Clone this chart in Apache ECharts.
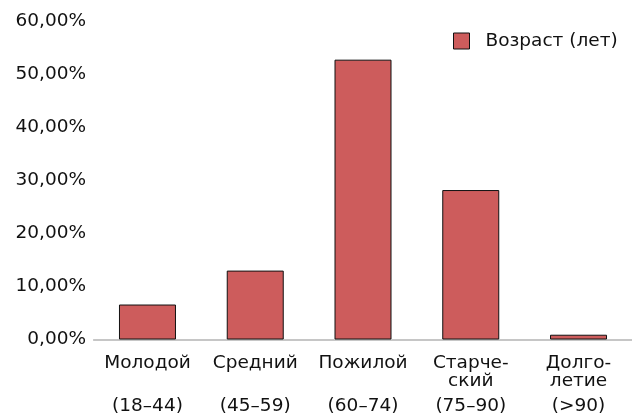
<!DOCTYPE html>
<html>
<head>
<meta charset="utf-8">
<script src="https://cdn.jsdelivr.net/npm/echarts@6/dist/echarts.min.js"></script>
<style>
html,body{margin:0;padding:0;background:#fff;}
#chart{width:632px;height:415px;}
</style>
</head>
<body>
<div id="chart"></div>
<script>
const categories = ['Молодой', 'Средний', 'Пожилой', 'Старческий', 'Долголетие'];
const labelLine1 = ['Молодой', 'Средний', 'Пожилой', 'Старче-', 'Долго-'];
const labelLine2 = ['', '', '', 'ский', 'летие'];
const labelRanges = ['(18–44)', '(45–59)', '(60–74)', '(75–90)', '(>90)'];
const seriesName = 'Возраст (лет)';
const values = [6.6, 13.0, 52.8, 28.2, 0.9];
const yTicks = [0, 10, 20, 30, 40, 50, 60];

const FONT = 'DejaVu Sans';
const FS = 18.5;
const chart = echarts.init(document.getElementById('chart'), null, {renderer: 'canvas'});
chart.setOption({
  animation: false,
  backgroundColor: '#ffffff',
  textStyle: {fontFamily: FONT},
  grid: {left: 93.6, right: -0.4, top: 21.5, bottom: 75.5, containLabel: false, outerBoundsMode: 'none'},
  legend: {
    data: [seriesName],
    left: 453, top: 31.5,
    padding: 0,
    itemWidth: 16, itemHeight: 16,
    icon: 'rect',
    itemStyle: {borderWidth: 1, borderColor: '#111'},
    textStyle: {fontFamily: FONT, fontSize: FS, color: '#111', padding: [4, 0, 0, 11]}
  },
  xAxis: {
    type: 'category',
    data: categories,
    axisLine: {show: true, lineStyle: {color: '#b4b4b4', width: 1.5}},
    axisTick: {show: false},
    axisLabel: {
      interval: 0,
      margin: 15,
      formatter: function (v, i) {
        const l2 = labelLine2[i] === '' ? ' ' : labelLine2[i];
        return '{a|' + labelLine1[i] + '}\n{a|' + l2 + '}\n{b|' + labelRanges[i] + '}';
      },
      rich: {
        a: {fontFamily: FONT, fontSize: FS, color: '#111', lineHeight: 18},
        b: {fontFamily: FONT, fontSize: FS, color: '#111', lineHeight: 32}
      }
    },
    splitLine: {show: false}
  },
  yAxis: {
    type: 'value',
    min: yTicks[0], max: yTicks[yTicks.length - 1], interval: 10,
    axisLine: {show: false},
    axisTick: {show: false},
    splitLine: {show: false},
    axisLabel: {
      margin: 7.5,
      padding: [11, 0, 0, 0],
      fontFamily: FONT, fontSize: FS, color: '#111',
      formatter: function (v) { return v.toFixed(2).replace('.', ',') + '%'; }
    }
  },
  series: [{
    name: seriesName,
    type: 'bar',
    data: values,
    barWidth: 57,
    itemStyle: {color: '#CD5C5C', borderColor: '#111', borderWidth: 1}
  }]
});
</script>
</body>
</html>
